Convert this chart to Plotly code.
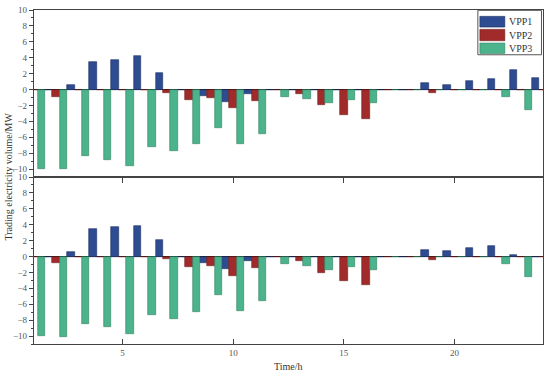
import plotly.graph_objects as go
from plotly.subplots import make_subplots

hours = list(range(1, 25))

# Top panel
top_vpp1 = [0, 0, 0.59, 3.4, 3.7, 4.24, 2.02, 0, -0.84, -1.6, -0.6, 0,
            0, 0, 0, 0, 0, 0, 0.76, 0.63, 1.09, 1.3, 2.4, 1.47]
top_vpp2 = [0, -0.88, 0, 0, 0, 0, -0.38, -1.3, -1.1, -2.35, -1.39, 0,
            -0.59, -2.0, -3.15, -3.66, 0, 0, -0.42, 0, 0, 0, 0, 0]
top_vpp3 = [-9.95, -10.05, -8.4, -8.8, -9.66, -7.27, -7.77, -6.9, -4.83, -6.85, -5.6, -0.88,
            -1.22, -1.72, -1.3, -1.72, 0, 0, 0, 0, 0, -0.92, -2.56, 0]

# Bottom panel
bot_vpp1 = [0, 0, 0.63, 3.46, 3.76, 3.84, 2.03, 0, -0.84, -1.6, -0.6, 0,
            -0.08, 0, 0, 0, 0, 0, 0.76, 0.68, 1.1, 1.31, 0.13, 0]
bot_vpp2 = [0, -0.84, 0, 0, 0, 0, -0.34, -1.35, -1.14, -2.4, -1.39, 0,
            -0.55, -2.03, -3.12, -3.63, 0, 0, -0.42, 0, 0, 0, 0, 0]
bot_vpp3 = [-10.0, -10.08, -8.48, -8.82, -9.7, -7.3, -7.85, -6.92, -4.81, -6.84, -5.57, -0.89,
            -1.18, -1.69, -1.31, -1.69, 0, 0, 0, 0, -0.05, -0.97, -2.6, 0]

names = ["VPP1", "VPP2", "VPP3"]
colors = ["#2E4C92", "#A12A2A", "#4CB48C"]
edges = ["#1C2F62", "#6E1C1C", "#2F8060"]

fig = make_subplots(rows=2, cols=1, shared_xaxes=False, vertical_spacing=0)

for row, series in ((1, [top_vpp1, top_vpp2, top_vpp3]), (2, [bot_vpp1, bot_vpp2, bot_vpp3])):
    for i, vals in enumerate(series):
        fig.add_trace(go.Bar(x=hours, y=vals, name=names[i],
                             marker=dict(color=colors[i], line=dict(color=edges[i], width=0.6)),
                             showlegend=False, offsetgroup=str(i),
                             legendgroup=names[i]), row=row, col=1)

serif = "Liberation Serif, DejaVu Serif, serif"
axcol = "#444444"
tickfont = dict(family=serif, size=9, color="#555555")

ycommon = dict(range=[-11, 10], tickvals=[-10, -8, -6, -4, -2, 0, 2, 4, 6, 8, 10],
               ticks="outside", ticklen=4, tickcolor=axcol, showgrid=False,
               zeroline=True, zerolinecolor="#111111", zerolinewidth=1.2,
               showline=True, linecolor=axcol, linewidth=1.2, mirror=True,
               tickfont=tickfont, automargin=False,
               minor=dict(dtick=1, tick0=0, ticks="outside", ticklen=2, tickcolor=axcol))
fig.update_yaxes(**ycommon)

fig.update_xaxes(range=[1, 24], tickvals=[5, 10, 15, 20], showgrid=False,
                 showline=True, linecolor=axcol, linewidth=1.2, mirror=True,
                 tickcolor=axcol, tickfont=tickfont, zeroline=False, automargin=False)
fig.update_xaxes(ticks="outside", ticklen=5, showticklabels=False, row=1, col=1)
fig.update_xaxes(ticks="inside", ticklen=5, showticklabels=True, row=2, col=1)

# Legend box drawn in paper coordinates
shapes = [dict(type="rect", xref="paper", yref="paper", x0=0.872, x1=0.997, y0=0.866, y1=0.999,
               line=dict(color="#555555", width=1), fillcolor="white", layer="above")]
annotations = []
sw_rows = [(0.949, 0.981), (0.908, 0.942), (0.870, 0.901)]
for i, (y0, y1) in enumerate(sw_rows):
    shapes.append(dict(type="rect", xref="paper", yref="paper", x0=0.876, x1=0.925, y0=y0, y1=y1,
                       line=dict(color=edges[i], width=0.6), fillcolor=colors[i], layer="above"))
    annotations.append(dict(text=names[i], x=0.929, y=(y0 + y1) / 2, xref="paper", yref="paper",
                            showarrow=False, xanchor="left", yanchor="middle",
                            font=dict(family=serif, size=10, color="#333333")))

annotations += [
    dict(text="Trading electricity volume/MW", x=-0.052, y=0.5, xref="paper", yref="paper",
         textangle=-90, showarrow=False, font=dict(family=serif, size=10, color="#333333"),
         xanchor="center", yanchor="middle"),
    dict(text="Time/h", x=0.5, y=-0.045, xref="paper", yref="paper", showarrow=False,
         font=dict(family=serif, size=10, color="#333333"), xanchor="center", yanchor="top"),
]

fig.update_layout(
    width=550, height=372,
    margin=dict(l=34, r=7, t=10, b=28),
    plot_bgcolor="white", paper_bgcolor="white",
    barmode="group", bargap=0, bargroupgap=0,
    font=dict(family=serif, size=9, color="#333333"),
    showlegend=False,
    shapes=shapes,
    annotations=annotations,
)

fig.write_html("out.html", config={"displayModeBar": False},
               post_script="document.body.style.margin='0';document.body.style.overflow='hidden';")
